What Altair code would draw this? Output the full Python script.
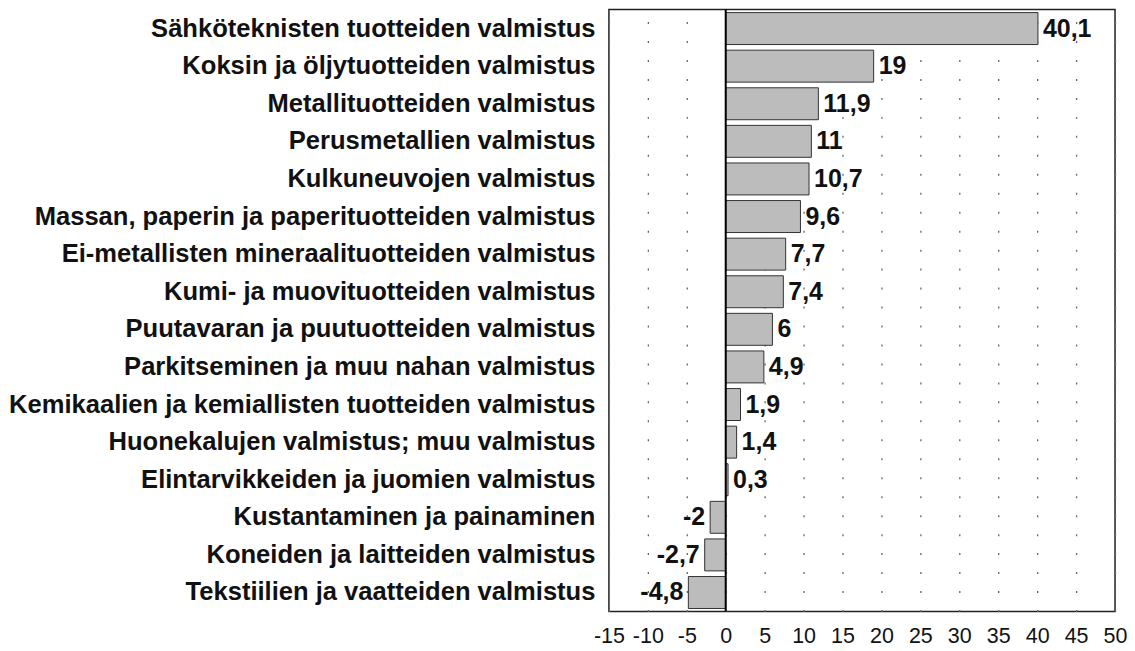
import altair as alt
import pandas as pd

categories = [
    "Sähköteknisten tuotteiden valmistus",
    "Koksin ja öljytuotteiden valmistus",
    "Metallituotteiden valmistus",
    "Perusmetallien valmistus",
    "Kulkuneuvojen valmistus",
    "Massan, paperin ja paperituotteiden valmistus",
    "Ei-metallisten mineraalituotteiden valmistus",
    "Kumi- ja muovituotteiden valmistus",
    "Puutavaran ja puutuotteiden valmistus",
    "Parkitseminen ja muu nahan valmistus",
    "Kemikaalien ja kemiallisten tuotteiden valmistus",
    "Huonekalujen valmistus; muu valmistus",
    "Elintarvikkeiden ja juomien valmistus",
    "Kustantaminen ja painaminen",
    "Koneiden ja laitteiden valmistus",
    "Tekstiilien ja vaatteiden valmistus",
]
values = [40.1, 19, 11.9, 11, 10.7, 9.6, 7.7, 7.4, 6, 4.9, 1.9, 1.4, 0.3, -2, -2.7, -4.8]
x_ticks = [-15, -10, -5, 0, 5, 10, 15, 20, 25, 30, 35, 40, 45, 50]

df = pd.DataFrame({"cat": categories, "value": values})
df["label"] = [str(v).replace(".", ",") for v in values]

FONT = "Liberation Sans"

y_axis = alt.Axis(labelFont=FONT, labelFontSize=25.6, labelFontWeight="bold",
                  labelColor="#111", ticks=False, domain=False,
                  labelPadding=14, labelLimit=800)
y_scale = alt.Scale(paddingInner=0.15, paddingOuter=0.08)
x_scale = alt.Scale(domain=[-15, 50], nice=False)
x_axis = alt.Axis(values=x_ticks, labelFont=FONT, labelFontSize=21.5,
                  labelColor="#111", ticks=False, domain=False,
                  labelOverlap=False, labelFlush=False,
                  labelExpr="toString(datum.value)",
                  labelPadding=14, grid=True, gridColor="#666",
                  gridDash=[2, 17], gridWidth=1.3)


def xenc():
    return alt.X("value:Q", scale=x_scale, title=None, axis=x_axis)


def yenc():
    return alt.Y("cat:N", sort=categories, title=None, scale=y_scale, axis=y_axis)


bars = alt.Chart(df).mark_bar(color="#bcbcbc", stroke="#333", strokeWidth=1).encode(
    x=xenc(), y=yenc())

pos = df[df["value"] >= 0]
neg = df[df["value"] < 0]

text_pos = alt.Chart(pos).mark_text(align="left", dx=5, font=FONT, fontSize=25,
                                     fontWeight="bold", color="#111").encode(
    x=xenc(), y=yenc(), text="label:N")
text_neg = alt.Chart(neg).mark_text(align="right", dx=-5, font=FONT, fontSize=25,
                                     fontWeight="bold", color="#111").encode(
    x=xenc(), y=yenc(), text="label:N")

zero = alt.Chart(pd.DataFrame({"value": [0]})).mark_rule(color="#000", strokeWidth=2).encode(
    x=xenc())

chart = alt.layer(bars, zero, text_pos, text_neg).properties(
    width=507, height=603, padding=0, background="white"
).configure_view(stroke="#222", strokeWidth=1.5)

chart.save("out.html", embed_options={"renderer": "svg", "actions": False})
